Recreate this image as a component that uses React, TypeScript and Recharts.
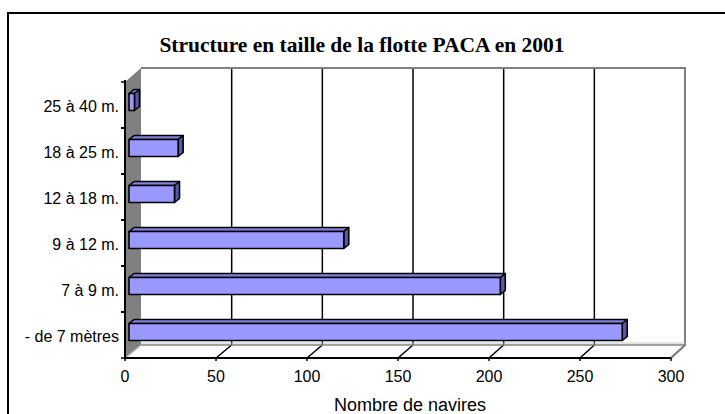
import { Bar, BarChart, CartesianGrid, Customized, XAxis, YAxis } from 'recharts'

const categories = ['25 à 40 m.', '18 à 25 m.', '12 à 18 m.', '9 à 12 m.', '7 à 9 m.', '- de 7 mètres']
const navires = [3, 27, 25, 118, 204, 271]
const xTicks = [0, 50, 100, 150, 200, 250, 300]

const data = categories.map((name, i) => ({ name, value: navires[i] }))

// front plane (plot area) and back wall, in page pixels
const FRONT = { left: 125, top: 82, right: 671, bottom: 358 }
const BACK = { left: 141, top: 68, right: 685, bottom: 345 }
const BAND = (FRONT.bottom - FRONT.top) / categories.length
const GRAY = '#808080'
const SANS = "'Liberation Sans', Arial, sans-serif"

function toBackX(x: number) {
  return BACK.left + ((x - FRONT.left) * (BACK.right - BACK.left)) / (FRONT.right - FRONT.left)
}

function Walls() {
  return (
    <g>
      <rect x={8} y={13} width={800} height={500} fill="none" stroke="#000" strokeWidth={2} />
      <polygon
        points={`${FRONT.left},${FRONT.top} ${BACK.left},${BACK.top} ${BACK.left},${BACK.bottom} ${FRONT.left},${FRONT.bottom}`}
        fill={GRAY}
      />
      <polyline
        points={`${BACK.left},${BACK.top} ${BACK.right},${BACK.top} ${BACK.right},${BACK.bottom} ${FRONT.right},${FRONT.bottom}`}
        fill="none"
        stroke={GRAY}
        strokeWidth={2}
      />
      <line x1={BACK.left} y1={BACK.bottom - 2} x2={BACK.right} y2={BACK.bottom - 2} stroke="#c8c8c8" strokeWidth={1} />
      <line x1={BACK.left} y1={BACK.bottom} x2={BACK.right} y2={BACK.bottom} stroke={GRAY} strokeWidth={1.5} />
      <line x1={FRONT.left} y1={FRONT.bottom} x2={BACK.left} y2={BACK.bottom} stroke="#b0b0b0" strokeWidth={1.5} />
      {/* front axes */}
      <line x1={FRONT.left} y1={FRONT.top - 2} x2={FRONT.left} y2={FRONT.bottom + 1} stroke="#000" strokeWidth={2} />
      <line x1={FRONT.left} y1={FRONT.bottom} x2={FRONT.right} y2={FRONT.bottom} stroke="#000" strokeWidth={2} />
      <text
        x={362}
        y={52}
        textAnchor="middle"
        fontFamily="'Liberation Serif', 'Times New Roman', serif"
        fontWeight="bold"
        fontSize={21.5}
        fill="#000"
      >
        Structure en taille de la flotte PACA en 2001
      </text>
      <text x={410} y={411} textAnchor="middle" fontFamily={SANS} fontSize={18} fill="#000">
        Nombre de navires
      </text>
    </g>
  )
}

function GridLine(props: any) {
  const { x1, index } = props
  if (index === 0) return <g key={`g-${index}`} />
  const bx = toBackX(x1)
  return (
    <g key={`g-${index}`}>
      <line x1={bx} y1={BACK.top} x2={bx} y2={BACK.bottom} stroke="#000" strokeWidth={1.5} />
      <line x1={x1} y1={FRONT.bottom} x2={bx} y2={BACK.bottom} stroke="#000" strokeWidth={1.5} />
    </g>
  )
}

function Bar3D(props: any) {
  const { x, y, width, height } = props
  const dx = 5
  const dy = -4
  const fx = x + 4
  const fy = y - 3.5
  const w = Math.max(width, 0)
  return (
    <g stroke="#000" strokeWidth={1.6} strokeLinejoin="round">
      <polygon points={`${fx},${fy} ${fx + dx},${fy + dy} ${fx + w + dx},${fy + dy} ${fx + w},${fy}`} fill="#8282DC" />
      <polygon
        points={`${fx + w},${fy} ${fx + w + dx},${fy + dy} ${fx + w + dx},${fy + height + dy} ${fx + w},${fy + height}`}
        fill="#5858A6"
      />
      <rect x={fx} y={fy} width={w} height={height} fill="#9999FF" />
    </g>
  )
}

function CategoryTick(props: any) {
  const { y, payload } = props
  return (
    <g>
      <line x1={FRONT.left - 4} y1={y - BAND / 2} x2={FRONT.left} y2={y - BAND / 2} stroke="#000" strokeWidth={1.5} />
      <line x1={FRONT.left - 4} y1={y + BAND / 2} x2={FRONT.left} y2={y + BAND / 2} stroke="#000" strokeWidth={1.5} />
      <text x={FRONT.left - 6} y={y + 7} textAnchor="end" fontFamily={SANS} fontSize={16} fill="#000">
        {payload.value}
      </text>
    </g>
  )
}

function ValueTick(props: any) {
  const { x, payload } = props
  return (
    <g>
      <line x1={x} y1={FRONT.bottom} x2={x} y2={FRONT.bottom + 3} stroke="#000" strokeWidth={1.5} />
      <text x={x} y={FRONT.bottom + 24} textAnchor="middle" fontFamily={SANS} fontSize={16} fill="#000">
        {payload.value}
      </text>
    </g>
  )
}

export default function App() {
  return (
    <div style={{ position: 'absolute', left: 0, top: 0, width: 725, height: 414, overflow: 'hidden', background: '#fff' }}>
      <BarChart
        width={725}
        height={414}
        data={data}
        layout="vertical"
        barSize={17}
        margin={{ top: FRONT.top, right: 725 - FRONT.right, bottom: 414 - FRONT.bottom - 30, left: 0 }}
      >
        <Customized component={Walls} />
        <CartesianGrid horizontal={false} vertical={GridLine} />
        <XAxis
          type="number"
          domain={[0, 300]}
          ticks={xTicks}
          height={30}
          axisLine={false}
          tickLine={false}
          tick={ValueTick}
          interval={0}
        />
        <YAxis type="category" dataKey="name" width={FRONT.left} axisLine={false} tickLine={false} tick={CategoryTick} interval={0} />
        <Bar dataKey="value" shape={Bar3D} isAnimationActive={false} />
      </BarChart>
    </div>
  )
}
